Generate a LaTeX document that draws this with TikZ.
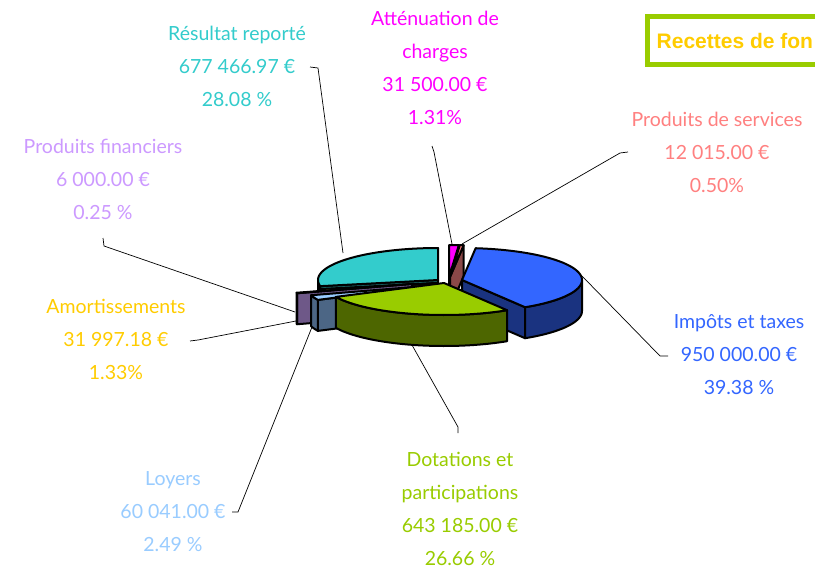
\documentclass[tikz,border=0pt]{standalone}
\usepackage{fontspec}
\setmainfont{Lato}
\newfontfamily\titlefont{Liberation Sans}
\definecolor{cTeal}{HTML}{33CCCC}
\definecolor{cTealS}{HTML}{1A6666}
\definecolor{cGold}{HTML}{FFCC00}
\definecolor{cGoldS}{HTML}{996600}
\definecolor{cLav}{HTML}{CC99FF}
\definecolor{cLavS}{HTML}{6E5888}
\definecolor{cSky}{HTML}{99CCFF}
\definecolor{cSkyS}{HTML}{4C6685}
\definecolor{cMag}{HTML}{FF00FF}
\definecolor{cMagS}{HTML}{800080}
\definecolor{cSal}{HTML}{FF8080}
\definecolor{cSalS}{HTML}{8A4848}
\definecolor{cBlue}{HTML}{3366FF}
\definecolor{cBlueS}{HTML}{1A3380}
\definecolor{cGreen}{HTML}{99CC00}
\definecolor{cGreenS}{HTML}{4D6600}
\tikzset{
  slicepart/.style={draw=black, line width=2pt, line join=round},
  leader/.style={draw=black, line width=0.7pt},
  lbl/.style={inner sep=0pt, align=center, font=\fontsize{19.5}{33}\selectfont},
}
\def\ra{120}\def\rb{32}\def\hh{31}
% #1 cx, #2 cy, #3 t1, #4 t2, #5 top colour, #6 side colour
\newcommand\pieslice[6]{%
  \pgfmathtruncatemacro\visA{sin(#3)<-0.001}%
  \pgfmathtruncatemacro\visB{sin(#4)>0.001}%
  \pgfmathsetmacro\wa{max(#3,90)}%
  \pgfmathsetmacro\wb{min(#4,270)}%
  \pgfmathtruncatemacro\haswall{\wa<\wb}%
  \ifnum\visA=1
    \filldraw[slicepart, fill=#6] (#1,#2) -- ({#1+\ra*sin(#3)},{#2-\rb*cos(#3)}) -- ++(0,\hh) -- (#1,{#2+\hh}) -- cycle;
  \fi
  \ifnum\visB=1
    \filldraw[slicepart, fill=#6] (#1,#2) -- ({#1+\ra*sin(#4)},{#2-\rb*cos(#4)}) -- ++(0,\hh) -- (#1,{#2+\hh}) -- cycle;
  \fi
  \ifnum\haswall=1
    \filldraw[slicepart, fill=#6] plot[domain=\wa:\wb, samples=40, variable=\sa] ({#1+\ra*sin(\sa)},{#2-\rb*cos(\sa)})
      -- plot[domain=\wb:\wa, samples=40, variable=\sa] ({#1+\ra*sin(\sa)},{#2-\rb*cos(\sa)+\hh}) -- cycle;
  \fi
  \filldraw[slicepart, fill=#5] (#1,#2) -- plot[domain=#3:#4, samples=60, variable=\sa] ({#1+\ra*sin(\sa)},{#2-\rb*cos(\sa)}) -- cycle;
}
\begin{document}
\begin{tikzpicture}[x=1pt, y=-1pt]
\useasboundingbox (0,0) rectangle (815,573);
\clip (0,0) rectangle (815,573);
\fill[white] (0,0) rectangle (815,573);

% pie slices, back to front
\pieslice{438}{280}{258.91}{360}{cTeal}{cTealS}
\pieslice{436}{283}{254.12}{258.91}{cGold}{cGoldS}
\pieslice{412}{284}{253.22}{254.12}{cLav}{cLavS}
\pieslice{426}{286}{244.26}{253.22}{cSky}{cSkyS}
\pieslice{449}{277}{0}{4.72}{cMag}{cMagS}
\pieslice{450}{277}{4.72}{6.52}{cSal}{cSalS}
\pieslice{462}{280}{6.52}{148.28}{cBlue}{cBlueS}
\pieslice{444}{283}{148.28}{244.26}{cGreen}{cGreenS}

% title box
\draw[draw=cGreen, line width=5pt, fill=white] (647.5,16.5) rectangle (840,64.5);
\node[anchor=base west, inner sep=0pt, text=cGold, font=\titlefont\bfseries\fontsize{21}{24}\selectfont] (title) at (656.5,48) {Recettes de fon};

% labels
\node[lbl, text=cTeal] (resultat) at (237,66) {Résultat reporté\\677 466.97 €\\28.08 \%};
\node[lbl, text=cMag] (attenuation) at (435,67.5) {Atténuation de\\charges\\31 500.00 €\\1.31\%};
\node[lbl, text=cSal] (services) at (717,152) {Produits de services\\12 015.00 €\\0.50\%};
\node[lbl, text=cBlue] (impots) at (739,355) {Impôts et taxes\\950 000.00 €\\39.38 \%};
\node[lbl, text=cGreen] (dotations) at (460,509) {Dotations et\\participations\\643 185.00 €\\26.66 \%};
\node[lbl, text=cSky] (loyers) at (173,512) {Loyers\\60 041.00 €\\2.49 \%};
\node[lbl, text=cGold] (amort) at (116,339) {Amortissements\\31 997.18 €\\1.33\%};
\node[lbl, text=cLav] (financiers) at (103,179) {Produits financiers\\6 000.00 €\\0.25 \%};

% leader coordinates
\coordinate (r0) at (310,67); \coordinate (r1) at (318,68); \coordinate (r2) at (343,253);
\coordinate (a0) at (432,146); \coordinate (a1) at (434,152); \coordinate (a2) at (452,244);
\coordinate (s0) at (628,152); \coordinate (s1) at (620,153); \coordinate (s2) at (462,244);
\coordinate (i0) at (668,356); \coordinate (i1) at (660,356); \coordinate (i2) at (582,276);
\coordinate (d0) at (458,433); \coordinate (d1) at (458,427); \coordinate (d2) at (412,345);
\coordinate (l0) at (232,512); \coordinate (l1) at (238,512); \coordinate (l2) at (312,327);
\coordinate (m0) at (190,341); \coordinate (m1) at (198,340); \coordinate (m2) at (296,321);
\coordinate (f0) at (103,238); \coordinate (f1) at (104,246); \coordinate (f2) at (295,312);

\draw[leader] (r0) -- (r1) -- (r2);
\draw[leader] (a0) -- (a1) -- (a2);
\draw[leader] (s0) -- (s1) -- (s2);
\draw[leader] (i0) -- (i1) -- (i2);
\draw[leader] (d0) -- (d1) -- (d2);
\draw[leader] (l0) -- (l1) -- (l2);
\draw[leader] (m0) -- (m1) -- (m2);
\draw[leader] (f0) -- (f1) -- (f2);
\end{tikzpicture}
\end{document}
